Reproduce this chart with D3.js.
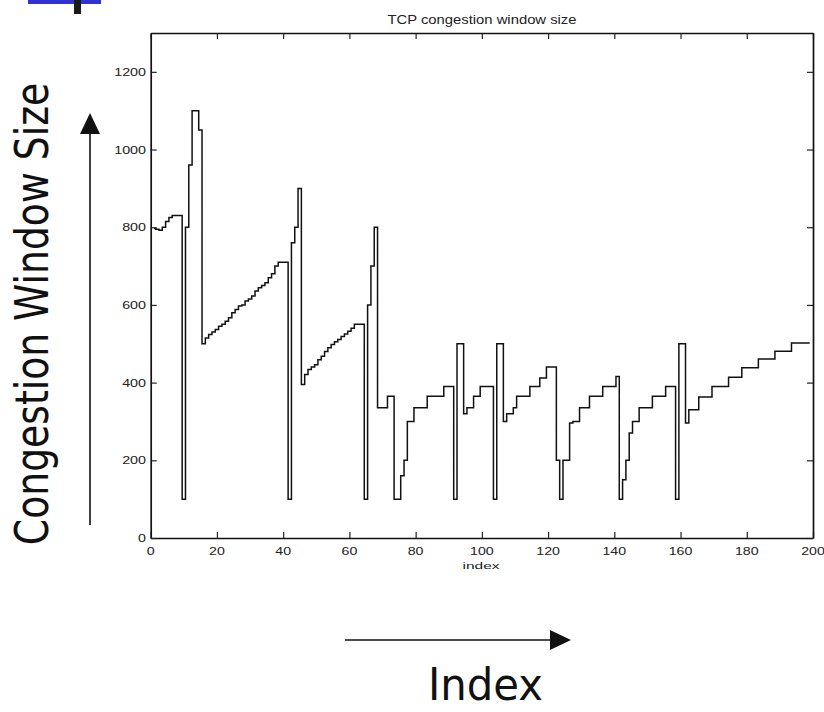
<!DOCTYPE html>
<html><head><meta charset="utf-8">
<script src="https://cdn.jsdelivr.net/npm/d3@7"></script>
<style>body{margin:0;background:#fff}svg{display:block}</style>
</head><body>
<script>
// ---------- data ----------
const xTicks = [0, 20, 40, 60, 80, 100, 120, 140, 160, 180, 200];
const xTickLabels = ["0", "20", "40", "60", "80", "100", "120", "140", "160", "180", "200"];
const yTicks = [0, 200, 400, 600, 800, 1000, 1200];
const yTickLabels = ["0", "200", "400", "600", "800", "1000", "1200"];
// congestion window per index (index 1..199)
const cwnd = [
  797, 795, 792, 800, 815, 825, 830, 830, 830,
  100,
  800, 960, 1100, 1100, 1050,
  500, 515, 524, 530, 537, 545, 550, 558, 567, 580, 588, 597, 600, 610, 615, 623, 636, 644, 650, 657, 670, 680, 700, 710, 710, 710,
  100,
  760, 800, 900,
  395, 421, 434, 440, 446, 459, 468, 480, 490, 498, 505, 511, 519, 525, 532, 540, 550, 550, 550,
  100,
  600, 700, 800,
  335, 335, 335, 365, 365,
  100, 100,
  160, 200, 300, 300,
  335, 335, 335, 335,
  365, 365, 365, 365, 365,
  390, 390, 390,
  100,
  500, 500,
  320, 335, 335, 365, 365,
  390, 390, 390, 390,
  100,
  500, 500,
  300, 320, 320, 335,
  365, 365, 365, 365,
  390, 390, 390,
  412, 412,
  440, 440, 440,
  200, 100,
  200, 200, 296, 300, 300,
  335, 335, 335,
  365, 365, 365, 365,
  390, 390, 390, 390,
  416,
  100,
  150, 200, 270, 300, 300,
  335, 335, 335, 335,
  365, 365, 365, 365,
  390, 390, 390,
  100,
  500, 500,
  296,
  330, 330, 330,
  363, 363, 363, 363,
  390, 390, 390, 390, 390,
  414, 414, 414, 414,
  438, 438, 438, 438, 438,
  461, 461, 461, 461, 461,
  481, 481, 481, 481, 481,
  502, 502, 502, 502, 502, 502
];
const chartTitle = "TCP congestion window size";
const xAxisLabel = "index";
const bigYLabel = "Congestion Window Size";
const bigXLabel = "Index";

// ---------- drawing ----------
const W = 824, H = 712;
const svg = d3.select("body").append("svg").attr("width", W).attr("height", H);

const x = d3.scaleLinear().domain([0, 200]).range([150.7, 813]);
const y = d3.scaleLinear().domain([0, 1300]).range([538, 33]);

// slide decoration (top-left)
svg.append("rect").attr("x", 28).attr("y", 0).attr("width", 73).attr("height", 4).attr("fill", "#3131cf");
svg.append("rect").attr("x", 74).attr("y", 0).attr("width", 7).attr("height", 14).attr("fill", "#1a1a1a");

// axes box with inward ticks on all sides
function styleAxis(g) {
  g.select(".domain").attr("stroke", "#111").attr("stroke-width", 1.7);
  g.selectAll(".tick line").attr("stroke", "#222").attr("stroke-width", 1.2);
}
svg.append("g").attr("transform", `translate(0,${y(0)})`)
  .call(d3.axisBottom(x).tickValues(xTicks).tickSizeInner(-6).tickSizeOuter(0).tickFormat(""))
  .call(styleAxis);
svg.append("g").attr("transform", `translate(0,${y(1300)})`)
  .call(d3.axisTop(x).tickValues(xTicks).tickSizeInner(-6).tickSizeOuter(0).tickFormat(""))
  .call(styleAxis);
svg.append("g").attr("transform", `translate(${x(0)},0)`)
  .call(d3.axisLeft(y).tickValues(yTicks).tickSizeInner(-6).tickSizeOuter(0).tickFormat(""))
  .call(styleAxis);
svg.append("g").attr("transform", `translate(${x(200)},0)`)
  .call(d3.axisRight(y).tickValues(yTicks).tickSizeInner(-6).tickSizeOuter(0).tickFormat(""))
  .call(styleAxis);

// data line (step-like trace)
const line = d3.line().curve(d3.curveStep).x((d, i) => x(i + 1)).y(d => y(d));
svg.append("path").datum(cwnd)
  .attr("d", line)
  .attr("fill", "none")
  .attr("stroke", "#111")
  .attr("stroke-width", 1.5)
  .attr("stroke-linejoin", "miter");

// tick labels
const tickFont = "'Liberation Sans', Arial, sans-serif";
svg.append("g").selectAll("text").data(xTicks).join("text")
  .attr("transform", d => `translate(${x(d)},555) scale(1.35,1)`)
  .attr("text-anchor", "middle")
  .attr("font-family", tickFont).attr("font-size", 10.5).attr("fill", "#222")
  .text((d, i) => xTickLabels[i]);
svg.append("g").selectAll("text").data(yTicks).join("text")
  .attr("transform", d => `translate(146,${y(d) + 4}) scale(1.3,1)`)
  .attr("text-anchor", "end")
  .attr("font-family", tickFont).attr("font-size", 11).attr("fill", "#222")
  .text((d, i) => yTickLabels[i]);

// chart title & small axis label
svg.append("text").attr("x", 482).attr("y", 24)
  .attr("text-anchor", "middle")
  .attr("font-family", tickFont).attr("font-size", 12.5).attr("fill", "#222")
  .attr("textLength", 189).attr("lengthAdjust", "spacingAndGlyphs")
  .text(chartTitle);
svg.append("text").attr("x", 481).attr("y", 569)
  .attr("text-anchor", "middle")
  .attr("font-family", tickFont).attr("font-size", 9).attr("fill", "#222")
  .attr("textLength", 37).attr("lengthAdjust", "spacingAndGlyphs")
  .text(xAxisLabel);

// big slide labels
const bigFont = "'DejaVu Sans', Verdana, sans-serif";
svg.append("text")
  .attr("transform", "translate(48,314) rotate(-90) scale(0.82,1)")
  .attr("text-anchor", "middle")
  .attr("font-family", bigFont).attr("font-size", 46).attr("fill", "#111")
  .text(bigYLabel);
svg.append("text")
  .attr("x", 485.5).attr("y", 700)
  .attr("text-anchor", "middle")
  .attr("font-family", bigFont).attr("font-size", 45).attr("fill", "#111")
  .attr("textLength", 115).attr("lengthAdjust", "spacingAndGlyphs")
  .text(bigXLabel);

// arrows
svg.append("line").attr("x1", 90).attr("y1", 525).attr("x2", 90).attr("y2", 130)
  .attr("stroke", "#111").attr("stroke-width", 1.6);
svg.append("path").attr("d", "M80,134 L100,134 L90,113 Z").attr("fill", "#111");
svg.append("line").attr("x1", 345).attr("y1", 640).attr("x2", 553).attr("y2", 640)
  .attr("stroke", "#111").attr("stroke-width", 1.6);
svg.append("path").attr("d", "M550,630 L550,650 L571,640 Z").attr("fill", "#111");
</script>
</body></html>
